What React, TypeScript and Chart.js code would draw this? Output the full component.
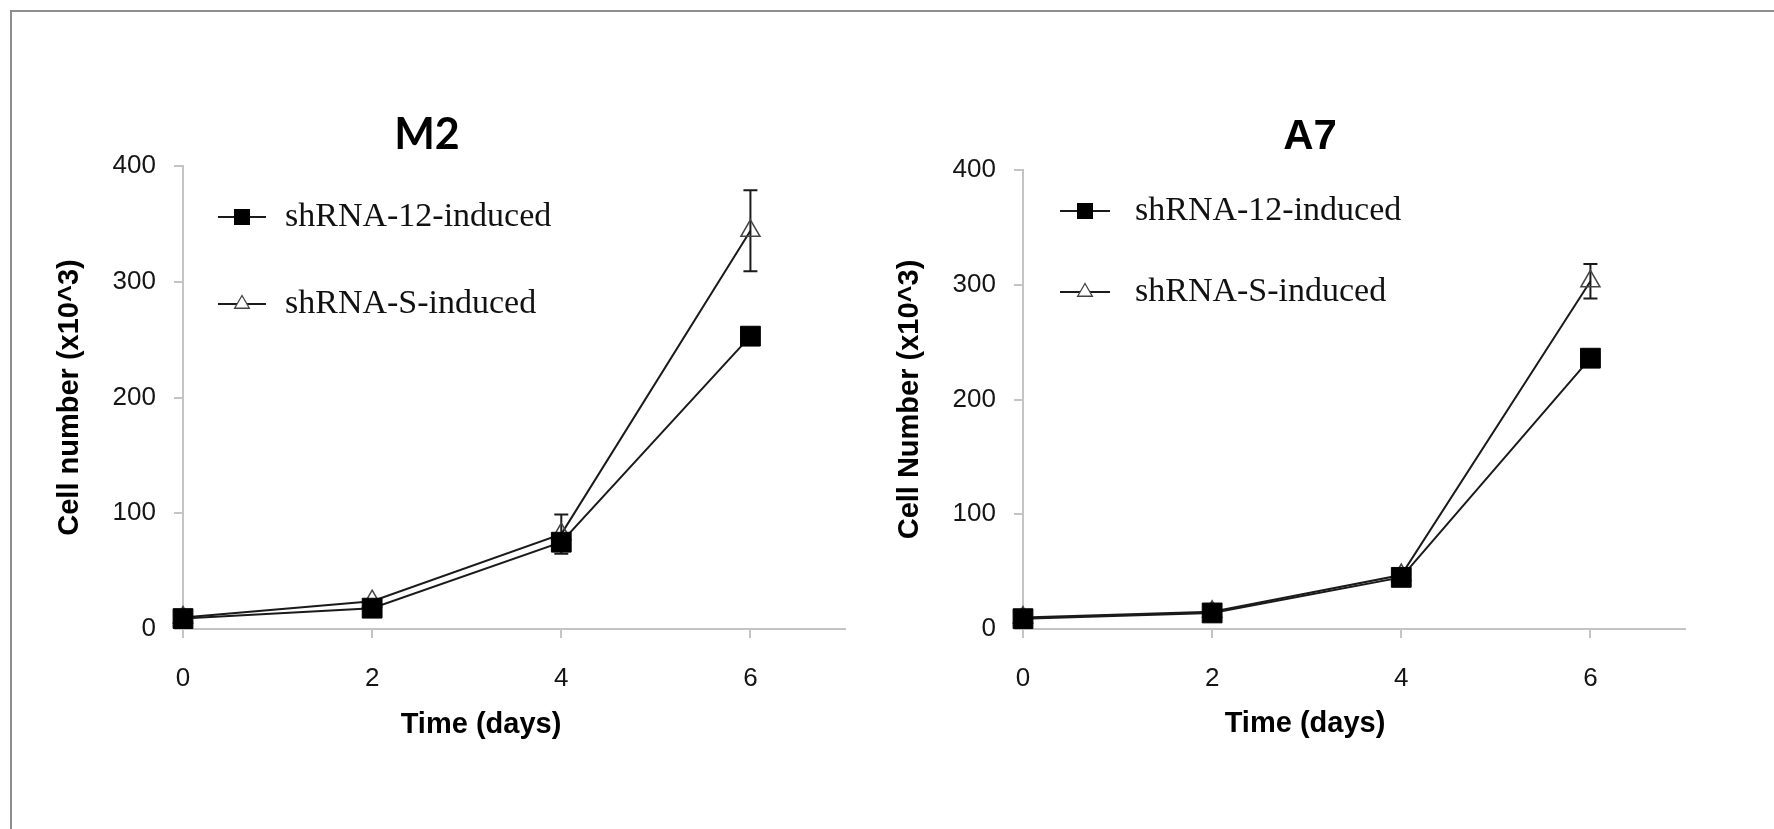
import React, { useEffect, useRef } from "react";
import { Chart, registerables } from "chart.js";

Chart.register(...registerables);

// ---- data ----
const days = [0, 2, 4, 6];
const xTickValues = [0, 2, 4, 6];
const seriesLabels = ["shRNA-12-induced", "shRNA-S-induced"];

const m2Sh12 = [9, 18, 75, 253];
const m2Sh12Err = [0, 0, 0, 0];
const m2ShS = [10, 24, 82, 344];
const m2ShSErr = [0, 0, 17, 35];

const a7Sh12 = [9, 14, 45, 236];
const a7Sh12Err = [0, 0, 0, 0];
const a7ShS = [10, 15, 47, 303];
const a7ShSErr = [0, 0, 0, 15];

const SANS = "'Liberation Sans', Arial, sans-serif";
const SERIF = "'Liberation Serif', 'Times New Roman', serif";

const decorPlugin = {
  id: "decor",
  beforeDatasetsDraw(chart: any, _args: any, opts: any) {
    const ctx = chart.ctx;
    const xs = chart.scales.x;
    const ys = chart.scales.y;
    chart.data.datasets.forEach((ds: any) => {
      const errs = ds.errors;
      if (!errs) return;
      ds.data.forEach((p: any, j: number) => {
        const e = errs[j];
        if (!e) return;
        const x = xs.getPixelForValue(p.x);
        const yt = ys.getPixelForValue(p.y + e);
        const yb = ys.getPixelForValue(p.y - e);
        const cap = 7;
        ctx.save();
        ctx.strokeStyle = "#1a1a1a";
        ctx.lineWidth = 2;
        ctx.beginPath();
        ctx.moveTo(x, yt);
        ctx.lineTo(x, yb);
        ctx.moveTo(x - cap, yt);
        ctx.lineTo(x + cap, yt);
        ctx.moveTo(x - cap, yb);
        ctx.lineTo(x + cap, yb);
        ctx.stroke();
        ctx.restore();
      });
    });
  },
  afterDraw(chart: any, _args: any, opts: any) {
    const ctx = chart.ctx;
    const ca = chart.chartArea;
    ctx.save();
    ctx.fillStyle = "#000";
    // chart title
    ctx.font = opts.titleFont;
    ctx.textAlign = "center";
    ctx.textBaseline = "alphabetic";
    ctx.fillText(opts.title, opts.titleX, opts.titleY);
    // x axis title
    ctx.font = `bold 29px ${SANS}`;
    ctx.fillText(opts.xTitle, opts.xTitleX, opts.xTitleY);
    // y axis title
    ctx.save();
    ctx.translate(opts.yTitleX, (ca.top + ca.bottom) / 2);
    ctx.rotate(-Math.PI / 2);
    ctx.textBaseline = "middle";
    ctx.fillText(opts.yTitle, 0, 0);
    ctx.restore();
    // legend
    const lg = opts.legend;
    chart.data.datasets.forEach((ds: any, i: number) => {
      const y = ca.top + lg.rows[i];
      const x0 = ca.left + lg.x;
      const x1 = x0 + lg.lineLen;
      const xm = (x0 + x1) / 2;
      ctx.strokeStyle = "#1a1a1a";
      ctx.lineWidth = 2;
      ctx.beginPath();
      ctx.moveTo(x0, y);
      ctx.lineTo(x1, y);
      ctx.stroke();
      if (ds.pointStyle === "rect") {
        ctx.fillStyle = "#000";
        ctx.fillRect(xm - 8, y - 8, 16, 16);
      } else {
        const r = 8.5;
        ctx.fillStyle = "#fff";
        ctx.strokeStyle = "#444";
        ctx.lineWidth = 1.3;
        ctx.beginPath();
        ctx.moveTo(xm, y - r);
        ctx.lineTo(xm + r * 0.866, y + r * 0.5);
        ctx.lineTo(xm - r * 0.866, y + r * 0.5);
        ctx.closePath();
        ctx.fill();
        ctx.stroke();
      }
      ctx.fillStyle = "#111";
      ctx.font = `34px ${SERIF}`;
      ctx.textAlign = "left";
      ctx.textBaseline = "alphabetic";
      ctx.fillText(ds.label, ca.left + lg.textX, y + 9);
    });
    ctx.restore();
  },
};

function makeConfig(p: any) {
  const toPts = (vals: number[]) => days.map((d, i) => ({ x: d, y: vals[i] }));
  const tickFont = { family: SANS, size: 26 };
  return {
    type: "line",
    data: {
      datasets: [
        {
          label: seriesLabels[0],
          data: toPts(p.sh12),
          errors: p.sh12Err,
          borderColor: "#1a1a1a",
          borderWidth: 2,
          pointStyle: "rect",
          pointRadius: 14,
          pointBackgroundColor: "#000",
          pointBorderColor: "#000",
          pointBorderWidth: 1,
          clip: false,
          tension: 0,
        },
        {
          label: seriesLabels[1],
          data: toPts(p.shS),
          errors: p.shSErr,
          borderColor: "#1a1a1a",
          borderWidth: 2,
          pointStyle: "triangle",
          pointRadius: 11,
          pointBackgroundColor: "rgba(255,255,255,0)",
          pointBorderColor: "#444",
          pointBorderWidth: 1.5,
          clip: false,
          tension: 0,
        },
      ],
    },
    options: {
      animation: false,
      responsive: false,
      devicePixelRatio: 1,
      events: [],
      layout: { autoPadding: false, padding: p.padding },
      plugins: {
        legend: { display: false },
        title: { display: false },
        tooltip: { enabled: false },
        decor: p.decor,
      },
      scales: {
        x: {
          type: "linear",
          min: 0,
          max: 7,
          afterBuildTicks: (s: any) => {
            s.ticks = xTickValues.map((v) => ({ value: v }));
          },
          afterFit: (s: any) => {
            s.height = 100;
          },
          grid: { drawOnChartArea: false, drawTicks: true, tickLength: 9, color: "#c4c4c4", lineWidth: 2 },
          border: { display: true, color: "#c4c4c4", width: 2 },
          ticks: { font: tickFont, color: "#151515", padding: 25, maxRotation: 0 },
        },
        y: {
          type: "linear",
          min: 0,
          max: 400,
          afterFit: (s: any) => {
            s.width = 100;
          },
          grid: { drawOnChartArea: false, drawTicks: true, tickLength: 9, color: "#c4c4c4", lineWidth: 2 },
          border: { display: true, color: "#c4c4c4", width: 2 },
          ticks: { font: tickFont, color: "#151515", padding: 18, stepSize: 100 },
        },
      },
    },
    plugins: [decorPlugin],
  };
}

function Panel({ left, params }: { left: number; params: any }) {
  const ref = useRef<HTMLCanvasElement | null>(null);
  useEffect(() => {
    const chart = new Chart(ref.current as HTMLCanvasElement, makeConfig(params) as any);
    return () => chart.destroy();
  }, []);
  return (
    <canvas
      ref={ref}
      width={887}
      height={829}
      style={{ position: "absolute", left, top: 0, width: 887, height: 829 }}
    />
  );
}

const m2Params = {
  sh12: m2Sh12,
  sh12Err: m2Sh12Err,
  shS: m2ShS,
  shSErr: m2ShSErr,
  padding: { left: 83, right: 42, top: 166, bottom: 100 },
  decor: {
    title: "M2",
    titleFont: `bold 43px Lato, 'Open Sans', sans-serif`,
    titleX: 427,
    titleY: 149,
    xTitle: "Time (days)",
    xTitleX: 481,
    xTitleY: 733,
    yTitle: "Cell number (x10^3)",
    yTitleX: 70,
    legend: { x: 35, rows: [51, 138], lineLen: 48, textX: 102 },
  },
};

const a7Params = {
  sh12: a7Sh12,
  sh12Err: a7Sh12Err,
  shS: a7ShS,
  shSErr: a7ShSErr,
  padding: { left: 36, right: 89, top: 170, bottom: 100 },
  decor: {
    title: "A7",
    titleFont: `bold 42px ${SANS}`,
    titleX: 423,
    titleY: 149,
    xTitle: "Time (days)",
    xTitleX: 418,
    xTitleY: 732,
    yTitle: "Cell Number (x10^3)",
    yTitleX: 23,
    legend: { x: 37, rows: [41, 122], lineLen: 50, textX: 112 },
  },
};

export default function App() {
  return (
    <div
      style={{
        position: "fixed",
        left: 0,
        top: 0,
        width: 1774,
        height: 829,
        background: "#fff",
        overflow: "hidden",
      }}
    >
      <div
        style={{
          position: "absolute",
          left: 10,
          top: 10,
          width: 1800,
          height: 900,
          borderTop: "2px solid #8e8e8e",
          borderLeft: "2px solid #8e8e8e",
        }}
      />
      <Panel left={0} params={m2Params} />
      <Panel left={887} params={a7Params} />
    </div>
  );
}
